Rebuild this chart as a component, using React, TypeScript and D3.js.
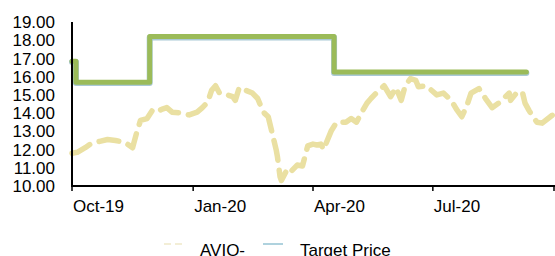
import React from 'react';
import * as d3 from 'd3';

const priceDates = [
  '2019-10-01', '2019-10-05', '2019-10-11', '2019-10-16', '2019-10-22', '2019-10-28', '2019-11-03',
  '2019-11-10', '2019-11-16', '2019-11-19', '2019-11-22', '2019-11-27', '2019-12-01', '2019-12-03',
  '2019-12-08', '2019-12-12', '2019-12-16', '2019-12-23', '2019-12-29', '2020-01-04', '2020-01-08',
  '2020-01-12', '2020-01-15', '2020-01-18', '2020-01-21', '2020-01-27', '2020-01-31', '2020-02-02',
  '2020-02-05', '2020-02-15', '2020-02-19', '2020-02-21', '2020-02-24', '2020-02-27', '2020-03-01',
  '2020-03-04', '2020-03-05', '2020-03-07', '2020-03-08', '2020-03-13', '2020-03-16', '2020-03-20',
  '2020-03-24', '2020-03-28', '2020-04-01', '2020-04-04', '2020-04-07', '2020-04-09', '2020-04-15',
  '2020-04-19', '2020-04-26', '2020-04-30', '2020-05-04', '2020-05-08', '2020-05-12', '2020-05-15',
  '2020-05-19', '2020-05-25', '2020-05-30', '2020-06-03', '2020-06-07', '2020-06-10', '2020-06-14',
  '2020-06-18', '2020-06-20', '2020-06-26', '2020-07-04', '2020-07-09', '2020-07-15', '2020-07-19',
  '2020-07-23', '2020-07-27', '2020-07-30', '2020-08-05', '2020-08-10', '2020-08-15', '2020-08-20',
  '2020-08-28', '2020-08-29', '2020-09-03', '2020-09-07', '2020-09-09', '2020-09-12', '2020-09-15',
  '2020-09-18', '2020-09-22', '2020-09-30',
];
const priceValues = [
  11.8, 11.85, 12.1, 12.35, 12.45, 12.55, 12.5,
  12.4, 12.1, 12.9, 13.6, 13.7, 14.15, 14.05,
  14.2, 14.3, 14.05, 14.0, 13.9, 14.05, 14.3,
  14.6, 15.25, 15.5, 15.1, 15.0, 14.9, 14.7,
  15.4, 15.1, 14.8, 14.45, 14.0, 13.8, 12.9,
  12.0, 11.6, 10.5, 10.3, 11.0, 10.85, 11.15,
  11.1, 12.2, 12.3, 12.25, 12.3, 12.0, 13.05,
  13.5, 13.5, 13.7, 13.5, 14.05, 14.55, 14.8,
  15.1, 15.5, 14.9, 15.4, 14.7, 15.5, 15.9,
  15.8, 15.45, 15.5, 15.0, 15.1, 14.7, 14.2,
  13.8, 14.45, 15.1, 15.35, 14.8, 14.3, 14.55,
  15.1, 14.7, 15.15, 15.15, 14.55, 14.15, 13.8,
  13.5, 13.45, 13.9,
];

const targetDates = ['2019-10-01', '2019-10-04', '2019-11-29', '2020-04-17', '2020-09-10'];
const targetValues = [16.85, 15.7, 18.2, 16.25, 16.25];

const yTicks = [10, 11, 12, 13, 14, 15, 16, 17, 18, 19];
const xTickDates = ['2019-10-01', '2020-01-01', '2020-04-01', '2020-07-01', '2020-10-01'];
const xTickLabels = ['Oct-19', 'Jan-20', 'Apr-20', 'Jul-20', ''];

const W = 555;
const H = 256;
const parse = d3.timeParse('%Y-%m-%d');

export default function App() {
  const x = d3
    .scaleTime()
    .domain([parse('2019-10-01') as Date, parse('2020-10-01') as Date])
    .range([72, 554]);
  const y = d3.scaleLinear().domain([10, 19]).range([186, 22]);

  const price = priceDates.map((d, i) => ({ date: parse(d) as Date, v: priceValues[i] }));
  const target = targetDates.map((d, i) => ({ date: parse(d) as Date, v: targetValues[i] }));

  const priceLine = d3
    .line<{ date: Date; v: number }>()
    .x((d) => x(d.date))
    .y((d) => y(d.v));
  const stepLine = d3
    .line<{ date: Date; v: number }>()
    .x((d) => x(d.date))
    .y((d) => y(d.v))
    .curve(d3.curveStepAfter);

  const font = 'Liberation Sans, Arial, sans-serif';

  return (
    <svg
      width={W}
      height={H}
      style={{ position: 'absolute', left: 0, top: 0, background: '#fff' }}
      fontFamily={font}
    >
      {/* price */}
      <path
        d={priceLine(price) || ''}
        fill="none"
        stroke="#EAE0A2"
        strokeWidth={5.5}
        strokeDasharray="20 10"
        strokeLinecap="round"
        strokeLinejoin="round"
      />
      {/* target price */}
      <path
        d={stepLine(target) || ''}
        fill="none"
        stroke="#A9C9D6"
        strokeWidth={6}
        strokeLinecap="round"
        strokeLinejoin="round"
        transform="translate(0,0.8)"
      />
      <path
        d={stepLine(target) || ''}
        fill="none"
        stroke="#9BBB59"
        strokeWidth={5}
        strokeLinecap="round"
        strokeLinejoin="round"
      />

      {/* y axis */}
      <line x1={72} x2={72} y1={y(19)} y2={y(10) + 1} stroke="#000" strokeWidth={2} />
      {yTicks.map((t) => (
        <text key={t} x={55} y={y(t)} dy="0.36em" textAnchor="end" fontSize={17} fill="#000">
          {t.toFixed(2)}
        </text>
      ))}

      {/* x axis */}
      <line x1={71} x2={W} y1={186} y2={186} stroke="#000" strokeWidth={2} />
      {xTickDates.map((d, i) => {
        const px = x(parse(d) as Date);
        return (
          <g key={d}>
            <line x1={px} x2={px} y1={186} y2={191} stroke="#000" strokeWidth={1.5} />
            <text x={px + 1} y={212} fontSize={17} fill="#000">
              {xTickLabels[i]}
            </text>
          </g>
        );
      })}

      {/* legend */}
      <line x1={164} x2={184} y1={244} y2={244} stroke="#F3EED6" strokeWidth={2} strokeDasharray="7 4" />
      <text x={200} y={256} fontSize={17} fill="#000">AVIO-</text>
      <line x1={263} x2={283} y1={244} y2={244} stroke="#AFD2DE" strokeWidth={2} />
      <text x={300} y={256} fontSize={17} fill="#000">Target Price</text>
    </svg>
  );
}
